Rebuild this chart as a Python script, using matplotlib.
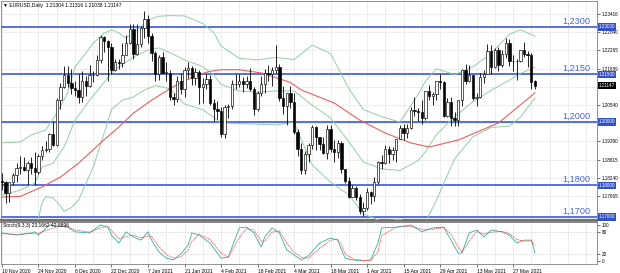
import matplotlib
matplotlib.use("Agg")
import matplotlib.pyplot as plt
import matplotlib.transforms as mtransforms
from matplotlib.patches import Rectangle

plt.rcParams['font.family'] = ['Liberation Sans', 'DejaVu Sans']

# ---------------- data (daily EURUSD bars, index 0 = first visible bar) ----------------
opens = [1.1813,1.1812,1.1775,1.1809,1.1833,1.1855,1.1857,1.1849,1.1871,1.1856,
         1.1843,1.1892,1.1913,1.1914,1.1962,1.1927,1.2071,1.2112,1.2147,1.2122,
         1.2108,1.2101,1.2080,1.2131,1.2113,1.2148,1.2149,1.2195,1.2267,1.2255,
         1.2237,1.2165,1.2189,1.2186,1.2213,1.2249,1.2295,1.2216,1.2247,1.2297,
         1.2326,1.2270,1.2218,1.2151,1.2206,1.2156,1.2156,1.2079,1.2074,1.2131,
         1.2105,1.2164,1.2170,1.2140,1.2159,1.2112,1.2119,1.2136,1.2060,1.2040,
         1.2034,1.1963,1.2047,1.2051,1.2119,1.2120,1.2131,1.2119,1.2130,1.2105,
         1.2040,1.2093,1.2120,1.2155,1.2150,1.2163,1.2173,1.2075,1.2050,1.2090,
         1.2062,1.1967,1.1915,1.1847,1.1900,1.1928,1.1985,1.1952,1.1930,1.1902,
         1.1977,1.1915,1.1905,1.1935,1.1850,1.1815,1.1763,1.1793,1.1763,1.1718,
         1.1728,1.1778,1.1765,1.1812,1.1873,1.1870,1.1915,1.1899,1.1910,1.1947,
         1.1980,1.1965,1.1982,1.2037,1.2034,1.2033,1.2014,1.2097,1.2082,1.2087,
         1.2128,1.2125,1.2019,1.2063,1.2014,1.2005,1.2068,1.2165,1.2131,1.2148,
         1.2075,1.2080,1.2143,1.2151,1.2224,1.2173,1.2227,1.2180,1.2214,1.2249,
         1.2192,1.2193,1.2193,1.2226,1.2214,1.2212,1.21304]
highs = [1.1839,1.1815,1.1810,1.1838,1.1870,1.1893,1.1891,1.1877,1.1890,1.1905,
         1.1899,1.1925,1.1941,1.1964,1.2003,1.2076,1.2123,1.2176,1.2178,1.2167,
         1.2130,1.2150,1.2162,1.2145,1.2179,1.2161,1.2212,1.2274,1.2272,1.2260,
         1.2250,1.2199,1.2200,1.2250,1.2275,1.2310,1.2310,1.2310,1.2302,1.2349,
         1.2337,1.2282,1.2224,1.2211,1.2222,1.2189,1.2163,1.2093,1.2145,1.2155,
         1.2173,1.2189,1.2177,1.2169,1.2163,1.2139,1.2152,1.2149,1.2074,1.2067,
         1.2048,1.2054,1.2057,1.2134,1.2150,1.2150,1.2143,1.2145,1.2169,1.2109,
         1.2097,1.2144,1.2168,1.2181,1.2175,1.2243,1.2183,1.2113,1.2092,1.2113,
         1.2092,1.1977,1.1934,1.1909,1.1935,1.1990,1.1987,1.1952,1.1952,1.1989,
         1.1989,1.1944,1.1942,1.1939,1.1852,1.1825,1.1800,1.1797,1.1774,1.1747,
         1.1793,1.1783,1.1826,1.1877,1.1896,1.1928,1.1924,1.1921,1.1947,1.1992,
         1.1995,1.1994,1.2048,1.2080,1.2043,1.2070,1.2098,1.2117,1.2095,1.2130,
         1.2150,1.2130,1.2076,1.2079,1.2031,1.2070,1.2167,1.2182,1.2181,1.2149,
         1.2091,1.2155,1.2165,1.2245,1.2244,1.2233,1.2238,1.2227,1.2266,1.2263,
         1.2210,1.2198,1.2226,1.2254,1.2225,1.2218,1.21316]
lows = [1.1786,1.1745,1.1746,1.1800,1.1811,1.1836,1.1845,1.1800,1.1836,1.1800,
        1.1835,1.1880,1.1905,1.1905,1.1925,1.1925,1.2040,1.2108,1.2110,1.2089,
        1.2081,1.2060,1.2064,1.2083,1.2111,1.2125,1.2144,1.2187,1.2222,1.2130,
        1.2152,1.2161,1.2166,1.2175,1.2211,1.2245,1.2200,1.2210,1.2237,1.2266,
        1.2251,1.2192,1.2131,1.2132,1.2155,1.2128,1.2071,1.2054,1.2064,1.2087,
        1.2079,1.2140,1.2116,1.2117,1.2058,1.2060,1.2103,1.2055,1.2003,1.2011,
        1.1952,1.1950,1.2012,1.2040,1.2105,1.2109,1.2096,1.2108,1.2098,1.2023,
        1.2035,1.2082,1.2091,1.2131,1.2113,1.2155,1.2067,1.2025,1.1992,1.2043,
        1.1962,1.1892,1.1836,1.1835,1.1874,1.1915,1.1910,1.1911,1.1898,1.1883,
        1.1906,1.1874,1.1887,1.1840,1.1806,1.1761,1.1762,1.1755,1.1710,1.1704,
        1.1723,1.1742,1.1750,1.1804,1.1853,1.1866,1.1869,1.1880,1.1875,1.1945,
        1.1942,1.1950,1.1977,1.2020,1.2002,1.1995,1.2005,1.2071,1.2054,1.2070,
        1.2104,1.2015,1.2017,1.1987,1.1987,1.1986,1.2050,1.2120,1.2126,1.2070,
        1.2051,1.2075,1.2124,1.2150,1.2150,1.2170,1.2161,1.2175,1.2203,1.2177,
        1.2160,1.2134,1.2190,1.2206,1.2175,1.2104,1.21038]
closes = [1.1812,1.1775,1.1809,1.1833,1.1855,1.1857,1.1849,1.1871,1.1856,1.1843,
          1.1892,1.1913,1.1914,1.1962,1.1927,1.2071,1.2112,1.2147,1.2122,1.2108,
          1.2101,1.2080,1.2131,1.2113,1.2148,1.2149,1.2195,1.2267,1.2255,1.2237,
          1.2165,1.2189,1.2186,1.2213,1.2249,1.2295,1.2216,1.2247,1.2297,1.2326,
          1.2270,1.2218,1.2151,1.2206,1.2156,1.2156,1.2079,1.2074,1.2131,1.2105,
          1.2164,1.2170,1.2140,1.2159,1.2112,1.2119,1.2136,1.2060,1.2040,1.2034,
          1.1963,1.2047,1.2051,1.2119,1.2120,1.2131,1.2119,1.2130,1.2105,1.2040,
          1.2093,1.2120,1.2155,1.2150,1.2163,1.2173,1.2075,1.2050,1.2090,1.2062,
          1.1967,1.1915,1.1847,1.1900,1.1928,1.1985,1.1952,1.1930,1.1902,1.1977,
          1.1915,1.1905,1.1935,1.1850,1.1815,1.1763,1.1793,1.1763,1.1718,1.1728,
          1.1778,1.1765,1.1812,1.1873,1.1870,1.1915,1.1899,1.1910,1.1947,1.1980,
          1.1965,1.1982,1.2037,1.2034,1.2033,1.2014,1.2097,1.2082,1.2087,1.2128,
          1.2125,1.2019,1.2063,1.2014,1.2005,1.2068,1.2165,1.2131,1.2148,1.2075,
          1.2080,1.2143,1.2151,1.2224,1.2173,1.2227,1.2180,1.2214,1.2249,1.2192,
          1.2193,1.2193,1.2226,1.2214,1.2212,1.2127,1.21147]

# Bollinger bands (read at sample bars)
bb_up_idx = [0,5,8,12,15,18,20,23,25,28,30,32,34,37,40,43,46,50,55,58,
             60,65,70,75,80,85,90,95,99,104,109,114,116,119,124,129,134,139,142,146]
bb_up = [1.1934,1.1937,1.1959,1.1975,1.2028,1.2092,1.2174,1.2218,1.2249,1.2281,
         1.2291,1.2281,1.2265,1.2290,1.2322,1.2334,1.2336,1.2335,1.2311,1.2283,
         1.2240,1.2201,1.2196,1.2204,1.2197,1.2243,1.2216,1.2106,1.2039,1.2017,
         1.2000,1.2087,1.2129,1.2168,1.2150,1.2174,1.2217,1.2277,1.2291,1.2271]
bb_mid_idx = [0,5,9,11,14,17,20,24,27,30,32,36,40,43,46,50,55,58,60,65,
              70,75,80,85,90,95,99,104,109,114,116,119,124,129,134,139,142,146]
bb_mid = [1.1769,1.1785,1.1807,1.1858,1.1870,1.1921,1.2006,1.2069,1.2111,1.2155,
          1.2174,1.2205,1.2227,1.2234,1.2219,1.2196,1.2175,1.2149,1.2119,1.2098,
          1.2094,1.2098,1.2098,1.2053,1.2013,1.1938,1.1874,1.1852,1.1847,1.1878,
          1.1906,1.1960,1.2017,1.2064,1.2100,1.2132,1.2153,1.2173]
bb_lo_idx = [0,5,9,10,11,12,14,16,17,19,21,25,28,30,33,36,39,42,46,50,
             55,58,60,65,70,75,80,85,90,95,99,104,109,114,116,119,124,129,134,139,142,146]
bb_lo = [1.1625,1.1640,1.1655,1.1697,1.1745,1.1765,1.1760,1.1735,1.1718,1.1730,
         1.1754,1.1858,1.1965,1.2040,1.2069,1.2079,1.2101,1.2115,1.2105,1.2057,
         1.2039,1.2015,1.1997,1.1995,1.1993,1.1991,1.1999,1.1864,1.1810,1.1770,
         1.1710,1.1686,1.1693,1.1669,1.1683,1.1753,1.1884,1.1953,1.1983,1.1987,
         1.2015,1.2076]
# red moving average
ma_idx = [0,5,11,16,21,27,32,36,41,46,49,54,57,60,65,71,75,79,82,91,98,105,112,117,125,136,146]
ma_val = [1.1763,1.1765,1.1795,1.1826,1.1870,1.1934,1.1984,1.2028,1.2069,1.2105,
          1.2125,1.2150,1.2160,1.2165,1.2165,1.2155,1.2140,1.2125,1.2101,1.2060,
          1.2006,1.1965,1.1934,1.1921,1.1943,1.1997,1.2092]

# stochastic oscillator (read at sample bars)
st_idx = [0,4,8,9,10,13,16,18,20,24,27,29,30,32,34,36,38,40,41,43,
          45,47,49,51,52,54,57,60,62,65,67,69,71,72,74,76,78,80,82,84,
          87,90,92,93,94,96,99,101,103,104,108,112,115,118,121,123,125,126,128,130,
          132,134,137,139,141,143,145,146]
st_k = [78,72,78,81,72,100,96,94,81,78,100,94,72,50,81,67,58,81,58,25,
        8,3,20,44,78,72,50,8,11,92,94,78,39,67,92,78,31,17,3,15,
        50,64,58,31,8,3,0,3,50,92,94,100,81,92,94,58,22,22,78,86,
        67,86,81,72,50,58,58,23.17]
st_d = [76,74,76,77,77,88,97,95,86,80,92,96,85,62,68,72,64,70,68,40,
        18,8,12,30,55,74,60,22,10,65,90,86,55,55,80,84,50,25,10,8,
        35,58,60,45,20,6,2,2,25,70,94,97,88,88,93,75,38,25,55,82,
        75,80,82,76,60,55,56,42.89]

date_pos = [0,10,20,30,40,50,60,70,80,90,100,110,120,130,140]
date_labels = ['10 Nov 2020','24 Nov 2020','8 Dec 2020','22 Dec 2020','7 Jan 2021',
               '21 Jan 2021','4 Feb 2021','18 Feb 2021','4 Mar 2021','18 Mar 2021',
               '1 Apr 2021','15 Apr 2021','29 Apr 2021','13 May 2021','27 May 2021']
price_ticks = [1.23416,1.22840,1.22265,1.21689,1.20540,1.19390,1.18815,1.18240,1.17665]
grid_prices = [1.23416,1.22840,1.22265,1.21689,1.21114,1.20540,1.19965,1.19390,1.18815,1.18240,1.17665]
levels = [1.2300,1.2150,1.2000,1.1800,1.1700]
level_texts = ['1,2300','1,2150','1,2000','1,1800','1,1700']
level_boxes = ['1.23000','1.21500','1.20000','1.18000','1.17000']
last_price = 1.21147
header = '\u25bc EURUSD,Daily  1.21304 1.21316 1.21038 1.21147'
stoch_header = 'Stoch(9,3,3) 23.1662 42.8896'

# ---------------- figure ----------------
W, H = 620, 273
fig = plt.figure(figsize=(W / 100, H / 100), dpi=100)
fig.patch.set_facecolor('white')

def box(l, t, r, b):
    return [l / W, 1 - b / H, (r - l) / W, (b - t) / H]

ax = fig.add_axes(box(1, 1, 597, 220))
ax2 = fig.add_axes(box(1, 222, 597, 264))

XMIN, XMAX = -0.27, 163.0
ax.set_xlim(XMIN, XMAX)
ax.set_ylim(1.16905, 1.23821)
ax2.set_xlim(XMIN, XMAX)
ax2.set_ylim(-8.3, 108.3)

grid_c = '#e6e6e6'
for g in range(0, 165, 5):
    ax.axvline(g, color=grid_c, lw=0.5, zorder=0)
    ax2.axvline(g, color=grid_c, lw=0.5, zorder=0)
for p in grid_prices:
    ax.axhline(p, color=grid_c, lw=0.5, zorder=0)
for p in [20, 80]:
    ax2.axhline(p, color='#cccccc', lw=0.5, ls=(0, (2, 2)), zorder=0)

# level lines
blue = '#4a66d6'
for lv, txt in zip(levels, level_texts):
    ax.axhline(lv, color=blue, lw=1.3, zorder=2)
    ax.text(161.2, lv + 0.0005, txt, color=blue, fontsize=6.6, ha='right', va='bottom', zorder=5)

# indicator lines
bbc = '#93cfa3'
ax.plot(bb_up_idx, bb_up, color=bbc, lw=0.7, zorder=3)
ax.plot(bb_mid_idx, bb_mid, color=bbc, lw=0.7, zorder=3)
ax.plot(bb_lo_idx, bb_lo, color=bbc, lw=0.7, zorder=3)
ax.plot(ma_idx, ma_val, color='#e86060', lw=0.8, zorder=3)

# candles
for i, (o, h, l, c) in enumerate(zip(opens, highs, lows, closes)):
    ax.vlines(i, l, h, color='black', lw=0.6, zorder=4)
    bot = min(o, c)
    ht = max(abs(c - o), 0.00005)
    fc = 'white' if c >= o else 'black'
    ax.add_patch(Rectangle((i - 0.32, bot), 0.64, ht, facecolor=fc,
                           edgecolor='black', lw=0.45, zorder=5))

# right price axis
ax.yaxis.tick_right()
ax.set_yticks(price_ticks)
ax.set_yticklabels([f'{v:.5f}' for v in price_ticks])
ax.tick_params(axis='y', labelsize=3.3, length=2, width=0.4, pad=1.5, colors='black')
ax.set_xticks([])
trans = mtransforms.blended_transform_factory(ax.transAxes, ax.transData)
for lv, bt in zip(levels, level_boxes):
    ax.text(1.003, lv, bt, transform=trans, fontsize=3.3, color='white', ha='left', va='center',
            bbox=dict(boxstyle='square,pad=0.25', fc='#3452c8', ec='none'), clip_on=False, zorder=6)
ax.text(1.003, last_price, f'{last_price:.5f}', transform=trans, fontsize=3.3, color='white',
        ha='left', va='center', bbox=dict(boxstyle='square,pad=0.25', fc='black', ec='none'),
        clip_on=False, zorder=6)
ax.text(0.003, 0.99, header, transform=ax.transAxes, fontsize=3.6, ha='left', va='top', zorder=6)

# stochastic
ax2.plot(st_idx, st_k, color='#30b0a0', lw=0.6, zorder=3)
ax2.plot(st_idx, st_d, color='#ff3030', lw=0.5, ls=(0, (2, 1)), zorder=3)
ax2.yaxis.tick_right()
ax2.set_yticks([0, 20, 80, 100])
ax2.set_yticklabels(['0', '20', '80', '100'])
ax2.tick_params(axis='y', labelsize=3.3, length=2, width=0.4, pad=1.5)
ax2.set_xticks(date_pos)
ax2.set_xticklabels(date_labels)
ax2.tick_params(axis='x', labelsize=3.6, length=2, width=0.4, pad=1.5)
for lab in ax2.get_xticklabels():
    lab.set_horizontalalignment('left')
ax2.text(0.004, 0.97, stoch_header, transform=ax2.transAxes, fontsize=3.6, ha='left', va='top', zorder=6)

for a in (ax, ax2):
    for s in a.spines.values():
        s.set_color('#808080')
        s.set_linewidth(0.6)
ax.spines['bottom'].set_linewidth(1.6)
ax.spines['bottom'].set_color('#707070')
ax2.spines['top'].set_linewidth(1.2)
ax2.spines['top'].set_color('#707070')

fig.savefig('out.png', dpi=100, facecolor='white')
